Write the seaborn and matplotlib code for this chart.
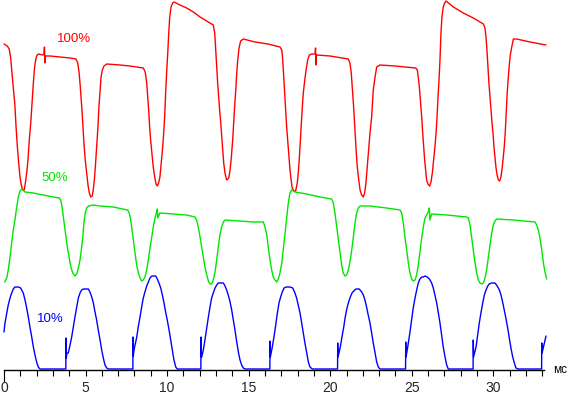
import matplotlib
matplotlib.use("Agg")
import matplotlib.pyplot as plt
import seaborn as sns
import pandas as pd

# ---- data: time (ms) and signal level (arbitrary units) ----
red_t = [0.00, 0.20, 0.32, 0.41, 0.49, 0.57, 0.66, 0.74, 0.82, 0.90, 0.98, 1.06, 1.15, 1.24, 1.31, 1.39, 1.47, 1.55, 1.64, 1.72, 1.80, 1.86, 1.92, 2.00, 2.10,
         2.39, 2.45, 2.48, 2.51, 2.54, 2.82, 3.43, 4.05, 4.41,
         4.52, 4.60, 4.66, 4.72, 4.78, 4.84, 4.90, 4.98, 5.07, 5.15, 5.23, 5.32, 5.41, 5.47, 5.54, 5.60, 5.68, 5.76, 5.82, 5.89, 5.95, 6.03, 6.13, 6.30,
         7.11, 7.72, 8.54,
         8.66, 8.75, 8.81, 8.87, 8.93, 8.99, 9.07, 9.15, 9.24, 9.32, 9.40, 9.48, 9.56, 9.64, 9.73, 9.79, 9.85, 9.91, 9.97, 10.04, 10.10, 10.16, 10.24, 10.34, 10.42,
         10.79, 11.20, 11.61, 12.02, 12.63, 12.83,
         12.92, 12.98, 13.04, 13.10, 13.16, 13.22, 13.29, 13.35, 13.41, 13.47, 13.55, 13.65, 13.78, 13.86, 13.94, 14.02, 14.08, 14.14, 14.21, 14.27, 14.33, 14.41, 14.51, 14.67,
         15.39, 16.19, 16.92,
         17.03, 17.09, 17.15, 17.21, 17.27, 17.33, 17.39, 17.45, 17.52, 17.58, 17.66, 17.76, 17.88, 17.98, 18.04, 18.10, 18.17, 18.23, 18.29, 18.35, 18.44, 18.52, 18.62, 18.72, 18.87,
         19.07, 19.10, 19.13, 19.16, 19.99, 21.11,
         21.21, 21.29, 21.35, 21.42, 21.48, 21.54, 21.60, 21.66, 21.75, 21.83, 21.93, 22.03, 22.11, 22.19, 22.27, 22.36, 22.44, 22.54, 22.64, 22.75, 22.85, 23.05,
         23.97, 25.24,
         25.34, 25.42, 25.48, 25.54, 25.61, 25.67, 25.73, 25.79, 25.85, 25.91, 25.99, 26.10, 26.18, 26.26, 26.34, 26.42, 26.49, 26.55, 26.61, 26.67, 26.73, 26.79, 26.85, 26.93, 27.02, 27.10,
         27.55, 28.16, 28.77, 29.39,
         29.49, 29.55, 29.61, 29.67, 29.73, 29.80, 29.86, 29.92, 29.98, 30.04, 30.10, 30.16, 30.23, 30.31, 30.39, 30.47, 30.55, 30.61, 30.67, 30.73, 30.79, 30.85, 30.92, 30.98, 31.04, 31.13, 31.23, 31.43, 32.25, 33.23]
red_v = [326, 324, 321, 312, 297, 282, 267, 243, 223, 207, 193, 185, 180, 180, 187, 197, 210, 230, 247, 267, 287, 300, 308, 314, 316,
         315, 316, 323, 307, 314, 314, 313, 312, 311,
         307, 298, 287, 273, 260, 243, 227, 210, 197, 185, 177, 173, 174, 180, 190, 203, 223, 243, 263, 280, 293, 300, 304, 306,
         305, 304, 302,
         298, 287, 273, 260, 243, 230, 217, 203, 193, 186, 184, 187, 193, 207, 223, 237, 253, 277, 297, 317, 337, 353, 363, 367, 368,
         365, 362, 358, 353, 347, 345,
         337, 320, 303, 287, 273, 260, 247, 233, 220, 207, 197, 190, 192, 200, 213, 230, 247, 263, 280, 297, 310, 322, 329, 331,
         328, 326, 323,
         320, 310, 293, 277, 260, 243, 230, 217, 203, 193, 183, 179, 179, 187, 197, 210, 230, 247, 263, 277, 290, 300, 310, 315, 316,
         316, 322, 305, 315, 314, 311,
         307, 297, 283, 267, 250, 233, 217, 203, 190, 180, 175, 173, 177, 187, 203, 220, 237, 253, 280, 293, 303, 305,
         304, 302,
         300, 290, 280, 267, 253, 237, 223, 210, 200, 190, 186, 184, 188, 197, 210, 223, 237, 253, 273, 290, 310, 337, 353, 363, 367, 369,
         363, 357, 352, 346,
         342, 333, 320, 303, 287, 273, 260, 247, 237, 223, 213, 203, 195, 190, 189, 193, 203, 213, 223, 237, 257, 277, 293, 305, 315, 323, 331, 331, 328, 325]

green_t = [0.04, 0.17, 0.26, 0.37, 0.47, 0.57, 0.67, 0.78, 0.88, 0.98, 1.09, 1.29, 1.80, 2.41, 3.02, 3.39,
           3.48, 3.56, 3.64, 3.72, 3.80, 3.88, 3.97, 4.05, 4.15, 4.25, 4.35, 4.46, 4.56, 4.66, 4.74, 4.83, 4.90, 4.98, 5.07, 5.19, 5.47,
           5.89, 6.70, 7.58,
           7.68, 7.77, 7.85, 7.93, 8.01, 8.09, 8.17, 8.26, 8.34, 8.44, 8.54, 8.64, 8.75, 8.85, 8.95, 9.06, 9.15, 9.26, 9.36, 9.40, 9.43,
           9.56, 10.38, 11.20, 11.71,
           11.81, 11.91, 12.02, 12.12, 12.22, 12.32, 12.43, 12.53, 12.63, 12.73, 12.83, 12.94, 13.04, 13.14, 13.24, 13.34, 13.45, 13.55,
           14.47, 15.29, 15.90,
           16.00, 16.11, 16.20, 16.31, 16.41, 16.51, 16.61, 16.72, 16.82, 16.92, 17.03, 17.12, 17.23, 17.33, 17.43, 17.53, 17.64, 17.84,
           18.56, 19.37, 20.09,
           20.19, 20.29, 20.40, 20.50, 20.60, 20.70, 20.80, 20.91, 21.01, 21.11, 21.21, 21.32, 21.42, 21.52, 21.62, 21.72, 21.83,
           22.44, 23.46, 24.28,
           24.38, 24.48, 24.58, 24.69, 24.79, 24.89, 24.99, 25.09, 25.20, 25.30, 25.40, 25.50, 25.61, 25.71, 25.81, 25.91, 26.01, 26.08, 26.11,
           26.22, 27.14, 28.37,
           28.47, 28.57, 28.67, 28.77, 28.88, 28.98, 29.08, 29.18, 29.29, 29.39, 29.49, 29.59, 29.69, 29.80, 29.90, 30.00, 30.10, 30.21,
           31.23, 32.55,
           32.66, 32.76, 32.86, 32.97, 33.07, 33.17, 33.27]
green_v = [88, 92, 100, 113, 127, 140, 150, 163, 173, 179, 181, 178, 177, 175, 173, 172,
           170, 163, 153, 143, 133, 123, 115, 107, 100, 96, 94, 96, 102, 110, 120, 133, 147, 157, 162, 164, 165,
           164, 163, 160,
           157, 150, 140, 130, 120, 110, 102, 96, 92, 89, 90, 93, 100, 110, 122, 133, 143, 152, 158, 161, 152,
           157, 156, 155, 153,
           150, 143, 133, 123, 113, 103, 95, 89, 86, 86, 90, 98, 110, 123, 135, 143, 148, 150,
           149, 148, 148,
           143, 135, 123, 110, 100, 93, 90, 88, 91, 97, 107, 120, 137, 153, 167, 177, 180, 178,
           176, 173, 171,
           167, 157, 143, 130, 117, 105, 97, 94, 95, 100, 108, 120, 133, 147, 157, 162, 164,
           164, 162, 160,
           157, 147, 133, 120, 107, 97, 91, 89, 90, 95, 105, 118, 132, 143, 152, 155, 158, 162, 150,
           156, 155, 153,
           152, 145, 133, 120, 107, 97, 90, 87, 86, 87, 92, 100, 112, 125, 137, 145, 149, 151,
           150, 148,
           145, 140, 132, 120, 107, 98, 91]

blue_t = [0.00, 0.06, 0.17, 0.26, 0.37, 0.47, 0.57, 0.67, 0.88, 1.02, 1.18, 1.29, 1.39, 1.49, 1.59, 1.70, 1.80, 1.90, 2.00, 2.10, 2.21,
          3.79, 3.80, 3.82, 3.86,
          3.94, 4.05, 4.15, 4.25, 4.35, 4.46, 4.56, 4.66, 4.76, 4.86, 5.17, 5.27, 5.38, 5.48, 5.58, 5.68, 5.78, 5.89, 5.99, 6.09, 6.19, 6.30, 6.39,
          7.90, 7.91, 7.93, 7.97,
          8.14, 8.23, 8.34, 8.44, 8.54, 8.64, 8.75, 8.85, 8.95, 9.06, 9.15, 9.30, 9.40, 9.50, 9.61, 9.71, 9.81, 9.91, 10.01, 10.12, 10.22, 10.32, 10.42, 10.53, 10.62,
          12.07, 12.08, 12.10,
          12.12, 12.22, 12.32, 12.43, 12.53, 12.63, 12.73, 12.83, 12.94, 13.04, 13.14, 13.24, 13.45, 13.55, 13.65, 13.75, 13.86, 13.96, 14.06, 14.16, 14.27, 14.37, 14.47, 14.57, 14.67, 14.78,
          16.30, 16.31, 16.33,
          16.45, 16.55, 16.66, 16.76, 16.86, 16.96, 17.06, 17.17, 17.29, 17.53, 17.70, 17.84, 17.94, 18.04, 18.15, 18.25, 18.35, 18.45, 18.56, 18.66, 18.76, 18.90,
          20.45, 20.46, 20.48,
          20.62, 20.72, 20.83, 20.92, 21.03, 21.13, 21.23, 21.34, 21.44, 21.58, 21.78, 21.93, 22.03, 22.13, 22.23, 22.33, 22.44, 22.54, 22.64, 22.75, 22.85, 22.95, 23.05,
          24.62, 24.63, 24.65,
          24.79, 24.89, 24.99, 25.09, 25.20, 25.30, 25.40, 25.50, 25.61, 25.71, 25.81, 25.95, 26.08, 26.22, 26.32, 26.42, 26.53, 26.63, 26.73, 26.83, 26.93, 27.04, 27.14, 27.24,
          28.76, 28.77, 28.79,
          28.94, 29.04, 29.14, 29.24, 29.35, 29.45, 29.55, 29.66, 29.75, 29.90, 30.10, 30.24, 30.37, 30.47, 30.57, 30.67, 30.77, 30.88, 30.98, 31.08, 31.19, 31.29, 31.39, 31.50,
          32.96, 32.97, 32.99, 33.13, 33.23]
blue_v = [38, 47, 57, 65, 72, 77, 81, 83, 83, 82, 77, 70, 62, 53, 43, 33, 23, 15, 8, 3, 1,
          1, 32, 12, 17,
          17, 25, 33, 43, 53, 63, 72, 77, 80, 81, 81, 78, 73, 67, 58, 50, 40, 30, 20, 12, 5, 2, 1,
          1, 33, 14, 20,
          33, 43, 53, 63, 72, 78, 84, 88, 92, 94, 94, 94, 91, 87, 82, 75, 67, 58, 50, 40, 30, 20, 10, 3, 1,
          1, 33, 13,
          13, 20, 30, 42, 53, 63, 72, 77, 82, 85, 87, 87, 87, 84, 80, 75, 68, 60, 50, 40, 28, 18, 10, 5, 2, 1,
          1, 29, 13,
          23, 33, 45, 57, 67, 73, 78, 82, 83, 83, 82, 77, 72, 65, 57, 47, 37, 27, 17, 8, 3, 1,
          1, 27, 13,
          23, 33, 43, 53, 62, 68, 73, 77, 79, 81, 81, 78, 75, 70, 63, 55, 47, 37, 27, 17, 8, 3, 1,
          1, 28, 13,
          27, 38, 50, 62, 72, 80, 87, 91, 93, 93, 94, 93, 91, 87, 82, 75, 67, 57, 47, 35, 23, 13, 5, 1,
          1, 30, 13,
          23, 35, 47, 57, 67, 75, 80, 84, 86, 87, 87, 84, 80, 75, 68, 60, 52, 42, 32, 22, 13, 7, 2, 1,
          1, 27, 17, 27, 34]

trace_names = ["100%", "50%", "10%"]
trace_colors = ["#ff0000", "#00e600", "#0000ff"]
x_ticks = [0, 5, 10, 15, 20, 25, 30]
x_unit = "мс"

# ---- build table ----
df = pd.concat([
    pd.DataFrame({"t": red_t, "v": red_v, "trace": trace_names[0]}),
    pd.DataFrame({"t": green_t, "v": green_v, "trace": trace_names[1]}),
    pd.DataFrame({"t": blue_t, "v": blue_v, "trace": trace_names[2]}),
], ignore_index=True)

sns.set_style("white")
plt.rcParams["font.family"] = ["Liberation Sans", "DejaVu Sans"]

fig = plt.figure(figsize=(5.69, 3.96), dpi=100)
ax = fig.add_axes([0, 0, 1, 1])

sns.lineplot(data=df, x="t", y="v", hue="trace", units="trace", estimator=None,
             sort=False, palette=dict(zip(trace_names, trace_colors)),
             linewidth=1.0, legend=False, ax=ax)

ax.set_xlim(-0.245, 34.64)
ax.set_ylim(-26, 370)

for s in ["top", "right", "left"]:
    ax.spines[s].set_visible(False)
ax.spines["bottom"].set_position(("data", 0))
ax.spines["bottom"].set_bounds(0, 33.1)
ax.spines["bottom"].set_linewidth(1.0)
ax.spines["bottom"].set_color("black")
ax.set_yticks([])
ax.set_xticks(x_ticks)
ax.set_xticklabels([str(v) for v in x_ticks])
ax.set_xticks(range(0, 34), minor=True)
ax.tick_params(axis="x", which="both", direction="out", length=4.3, width=0.8,
               color="black", labelsize=10, pad=3.5, bottom=True)
ax.xaxis.get_major_ticks()[0].tick1line.set_markersize(8.5)
ax.set_xlabel("")
ax.set_ylabel("")

# labels of the traces
ax.text(3.25, 331, trace_names[0], color=trace_colors[0], fontsize=9.5, va="center", ha="left")
ax.text(2.27, 192, trace_names[1], color=trace_colors[1], fontsize=9.5, va="center", ha="left")
ax.text(2.02, 51, trace_names[2], color=trace_colors[2], fontsize=9.5, va="center", ha="left")
ax.text(33.68, 0, x_unit, color="black", fontsize=8.5, va="center", ha="left")

fig.savefig("out.png", dpi=100, facecolor="white")
